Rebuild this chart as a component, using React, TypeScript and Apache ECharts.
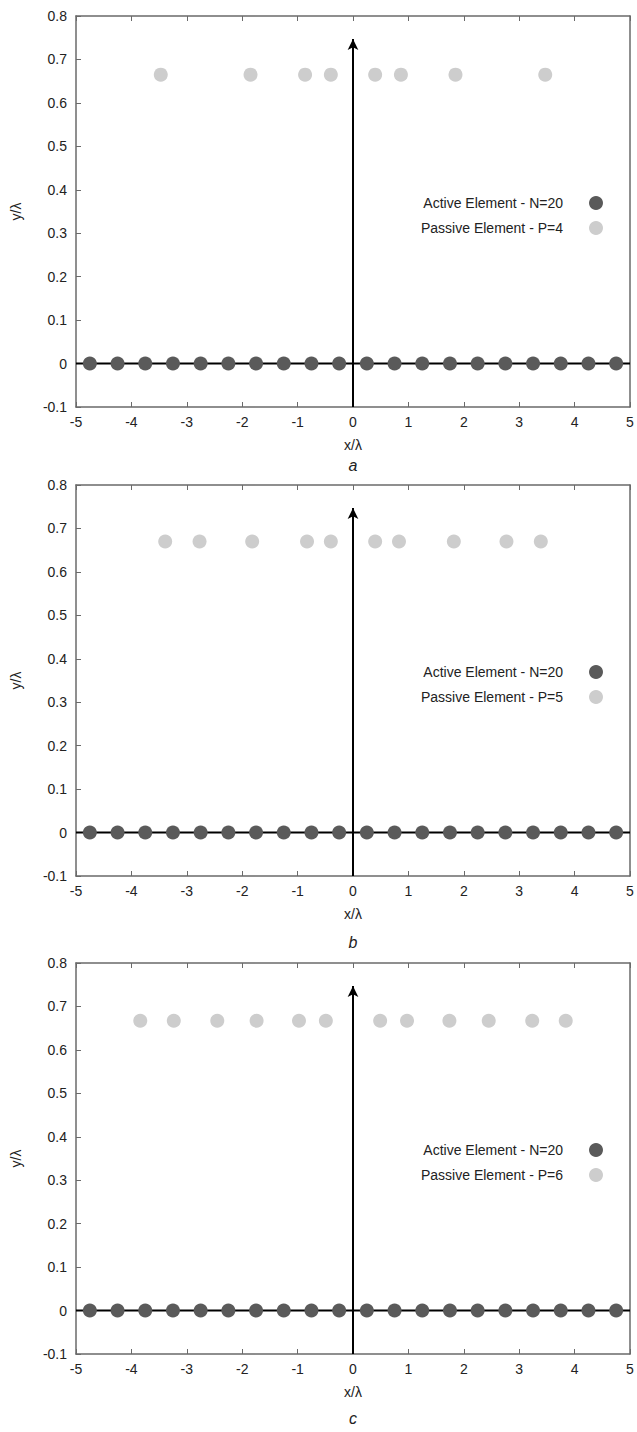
import React, { useEffect, useRef } from "react";
import * as echarts from "echarts";

// ---- data ----
const ACTIVE_X: number[] = [
  -4.75, -4.25, -3.75, -3.25, -2.75, -2.25, -1.75, -1.25, -0.75, -0.25,
  0.25, 0.75, 1.25, 1.75, 2.25, 2.75, 3.25, 3.75, 4.25, 4.75,
];
const ACTIVE_Y = 0;

const PASSIVE_A_X: number[] = [-3.47, -1.85, -0.865, -0.4, 0.4, 0.865, 1.85, 3.47];
const PASSIVE_A_Y = 0.665;
const PASSIVE_B_X: number[] = [-3.39, -2.77, -1.82, -0.83, -0.4, 0.4, 0.83, 1.82, 2.77, 3.39];
const PASSIVE_B_Y = 0.67;
const PASSIVE_C_X: number[] = [-3.84, -3.235, -2.45, -1.74, -0.975, -0.49, 0.49, 0.975, 1.74, 2.45, 3.235, 3.84];
const PASSIVE_C_Y = 0.667;

const ACTIVE_NAME = "Active Element - N=20";
const PASSIVE_NAMES: string[] = ["Passive Element - P=4", "Passive Element - P=5", "Passive Element - P=6"];
const PANEL_LETTERS: string[] = ["a", "b", "c"];

const X_MIN = -5;
const X_MAX = 5;
const X_STEP = 1;
const Y_MIN = -0.1;
const Y_MAX = 0.8;
const Y_STEP = 0.1;
const ARROW_TOP = 0.747;

// ---- layout / style ----
const W = 637;
const H = 1432;
const PANEL_TOPS = [16, 485, 963];
const PLOT_H = 391;
const PLOT_LEFT = 76;
const PLOT_RIGHT = 7;
const LETTER_Y = [465, 942, 1418];
const FONT = "'Liberation Sans', Arial, Helvetica, sans-serif";
const TEXT_COLOR = "#222";
const FRAME_COLOR = "#6a6a6a";
const ACTIVE_COLOR = "#5a5a5a";
const PASSIVE_COLOR = "#cdcdcd";

const App: React.FC = () => {
  const ref = useRef<HTMLDivElement>(null);

  useEffect(() => {
    if (!ref.current) return;
    const chart = echarts.init(ref.current, undefined, { renderer: "svg" });

    const passiveSets = [
      { xs: PASSIVE_A_X, y: PASSIVE_A_Y },
      { xs: PASSIVE_B_X, y: PASSIVE_B_Y },
      { xs: PASSIVE_C_X, y: PASSIVE_C_Y },
    ];

    const grid: any[] = [];
    const xAxis: any[] = [];
    const yAxis: any[] = [];
    const series: any[] = [];
    const legend: any[] = [];
    const graphic: any[] = [];

    PANEL_TOPS.forEach((top, i) => {
      grid.push({ left: PLOT_LEFT, right: PLOT_RIGHT, top, height: PLOT_H, containLabel: false });
      xAxis.push({
        type: "value",
        gridIndex: i,
        position: "bottom",
        min: X_MIN,
        max: X_MAX,
        interval: X_STEP,
        name: "x/λ",
        nameLocation: "middle",
        nameGap: 31,
        nameTextStyle: { fontFamily: FONT, fontSize: 14, color: TEXT_COLOR },
        axisLine: { show: true, onZero: false, lineStyle: { color: FRAME_COLOR, width: 1.5 } },
        axisTick: { show: true, inside: true, length: 5, lineStyle: { color: FRAME_COLOR, width: 1 } },
        axisLabel: { fontFamily: FONT, fontSize: 14, color: TEXT_COLOR, margin: 8 },
        splitLine: { show: false },
      });
      xAxis.push({
        type: "value",
        gridIndex: i,
        position: "top",
        min: X_MIN,
        max: X_MAX,
        interval: X_STEP,
        axisLine: { show: true, onZero: false, lineStyle: { color: FRAME_COLOR, width: 1.5 } },
        axisTick: { show: true, inside: true, length: 5, lineStyle: { color: FRAME_COLOR, width: 1 } },
        axisLabel: { show: false },
        splitLine: { show: false },
      });
      yAxis.push({
        type: "value",
        gridIndex: i,
        position: "left",
        min: Y_MIN,
        max: Y_MAX,
        interval: Y_STEP,
        name: "y/λ",
        nameLocation: "middle",
        nameGap: 53,
        nameTextStyle: { fontFamily: FONT, fontSize: 14, color: TEXT_COLOR },
        axisLine: { show: true, onZero: false, lineStyle: { color: FRAME_COLOR, width: 1.5 } },
        axisTick: { show: true, inside: true, length: 5, lineStyle: { color: FRAME_COLOR, width: 1 } },
        axisLabel: {
          fontFamily: FONT,
          fontSize: 14,
          color: TEXT_COLOR,
          margin: 9,
          formatter: (v: number) => String(Math.round(v * 10) / 10),
        },
        splitLine: { show: false },
      });
      yAxis.push({
        type: "value",
        gridIndex: i,
        position: "right",
        min: Y_MIN,
        max: Y_MAX,
        interval: Y_STEP,
        axisLine: { show: true, onZero: false, lineStyle: { color: FRAME_COLOR, width: 1.5 } },
        axisTick: { show: false },
        axisLabel: { show: false },
        splitLine: { show: false },
      });

      const xi = i * 2;
      const yi = i * 2;

      series.push({
        type: "line",
        xAxisIndex: xi,
        yAxisIndex: yi,
        data: [
          [X_MIN, 0],
          [X_MAX, 0],
        ],
        showSymbol: false,
        symbol: "none",
        silent: true,
        lineStyle: { color: "#000", width: 2 },
        z: 2,
        markLine: {
          silent: true,
          symbol: ["none", "arrow"],
          symbolSize: [8, 11],
          label: { show: false },
          lineStyle: { color: "#000", width: 2, type: "solid" },
          data: [[{ coord: [0, Y_MIN] }, { coord: [0, ARROW_TOP] }]],
        },
      });

      series.push({
        type: "scatter",
        name: ACTIVE_NAME,
        xAxisIndex: xi,
        yAxisIndex: yi,
        symbol: "circle",
        symbolSize: 14,
        itemStyle: { color: ACTIVE_COLOR, opacity: 1 },
        data: ACTIVE_X.map((x) => [x, ACTIVE_Y]),
        z: 3,
      });

      const ps = passiveSets[i];
      series.push({
        type: "scatter",
        name: PASSIVE_NAMES[i],
        xAxisIndex: xi,
        yAxisIndex: yi,
        symbol: "circle",
        symbolSize: 14,
        itemStyle: { color: PASSIVE_COLOR, opacity: 1 },
        data: ps.xs.map((x) => [x, ps.y]),
        z: 3,
      });

      legend.push({
        orient: "vertical",
        align: "right",
        right: 34,
        top: top + 180,
        padding: 0,
        itemGap: 11,
        itemWidth: 56,
        itemHeight: 14,
        icon: "circle",
        selectedMode: false,
        data: [ACTIVE_NAME, PASSIVE_NAMES[i]],
        itemStyle: { opacity: 1 },
        textStyle: {
          fontFamily: FONT,
          fontSize: 14,
          color: TEXT_COLOR,
        },
      });

      graphic.push({
        type: "text",
        x: PLOT_LEFT + (W - PLOT_LEFT - PLOT_RIGHT) / 2,
        y: LETTER_Y[i],
        style: {
          text: PANEL_LETTERS[i],
          fontFamily: FONT,
          fontSize: 16,
          fontStyle: "italic",
          fill: TEXT_COLOR,
          textAlign: "center",
          textVerticalAlign: "middle",
        },
      });
    });

    chart.setOption({
      animation: false,
      backgroundColor: "#ffffff",
      grid,
      xAxis,
      yAxis,
      series,
      legend,
      graphic,
    });

    return () => {
      chart.dispose();
    };
  }, []);

  return (
    <div
      ref={ref}
      style={{ position: "absolute", left: 0, top: 0, width: W, height: H, background: "#fff" }}
    />
  );
};

export default App;
